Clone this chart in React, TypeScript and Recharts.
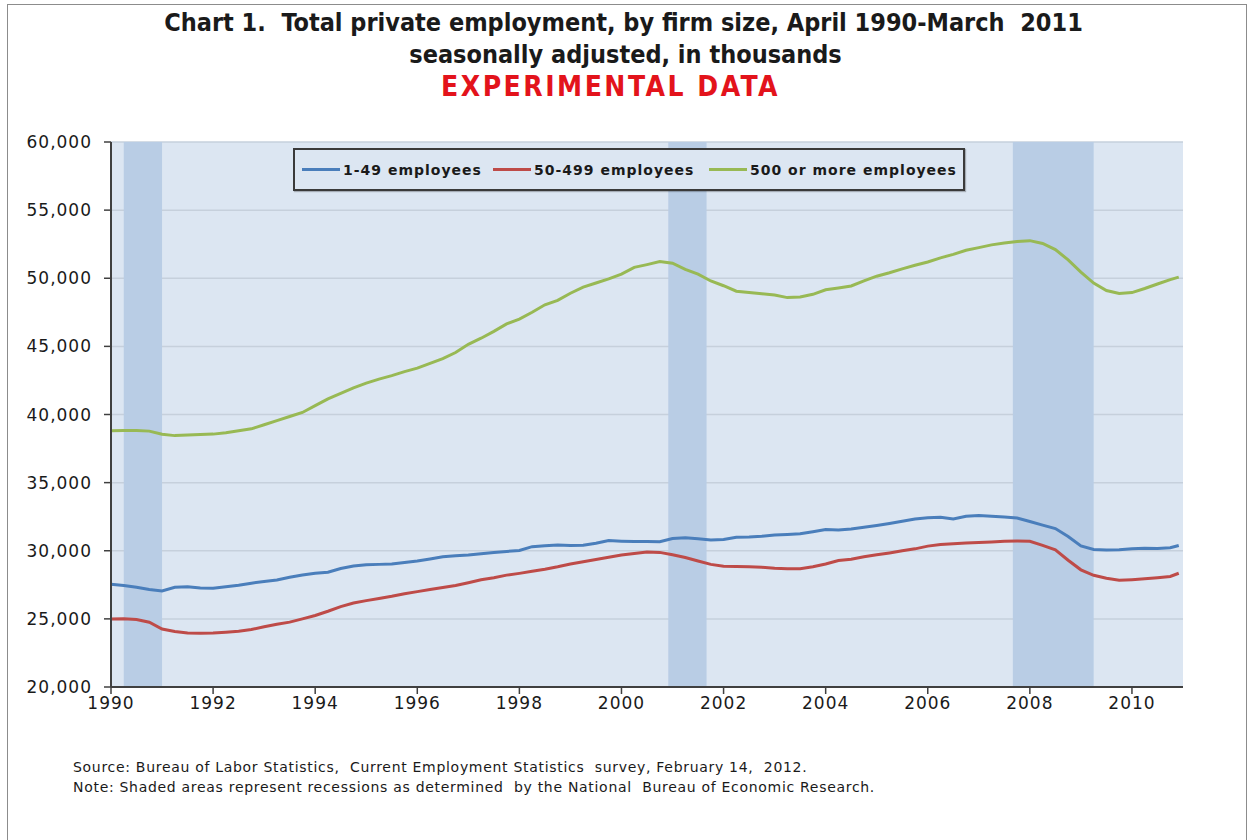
import React from "react";
import { LineChart, Line, XAxis, YAxis, CartesianGrid, ReferenceArea } from "recharts";

// months since April 1990, sampled quarterly (last point = March 2011)
const MONTHS = [
  0, 3, 6, 9, 12, 15, 18, 21, 24, 27,
  30, 33, 36, 39, 42, 45, 48, 51, 54, 57,
  60, 63, 66, 69, 72, 75, 78, 81, 84, 87,
  90, 93, 96, 99, 102, 105, 108, 111, 114, 117,
  120, 123, 126, 129, 132, 135, 138, 141, 144, 147,
  150, 153, 156, 159, 162, 165, 168, 171, 174, 177,
  180, 183, 186, 189, 192, 195, 198, 201, 204, 207,
  210, 213, 216, 219, 222, 225, 228, 231, 234, 237,
  240, 243, 246, 249, 251,
];

// 1-49 employees (thousands)
const SMALL = [
  27540, 27450, 27320, 27150, 27050, 27320, 27350, 27260, 27250, 27360,
  27470, 27620, 27740, 27850, 28050, 28220, 28350, 28420, 28700, 28880,
  28970, 29000, 29020, 29140, 29250, 29400, 29560, 29630, 29690, 29780,
  29880, 29950, 30020, 30300, 30360, 30420, 30380, 30400, 30550, 30750,
  30700, 30670, 30680, 30660, 30900, 30950, 30880, 30790, 30820, 30990,
  31010, 31060, 31160, 31200, 31250, 31400, 31560, 31520, 31600, 31720,
  31850, 32000, 32160, 32330, 32430, 32460, 32330, 32530, 32580, 32540,
  32470, 32400, 32150, 31880, 31630, 31050, 30350, 30090, 30060, 30070,
  30150, 30180, 30170, 30220, 30390,
];

// 50-499 employees
const MEDIUM = [
  24990, 25000, 24960, 24750, 24260, 24080, 23960, 23940, 23960, 24020,
  24100, 24220, 24420, 24600, 24760, 25000, 25250, 25560, 25900, 26160,
  26340, 26500, 26660, 26850, 27000, 27160, 27300, 27450, 27650, 27870,
  28020, 28210, 28340, 28490, 28640, 28820, 29030, 29200, 29350, 29520,
  29690, 29800, 29900, 29880, 29700, 29500, 29250, 29000, 28870, 28850,
  28820, 28790, 28710, 28680, 28680, 28820, 29030, 29280, 29380, 29560,
  29700, 29840, 30000, 30140, 30340, 30460, 30520, 30570, 30610, 30650,
  30690, 30710, 30700, 30400, 30060, 29300, 28600, 28200, 27980, 27840,
  27880, 27940, 28020, 28110, 28350,
];

// 500 or more employees
const LARGE = [
  38800, 38830, 38820, 38780, 38550, 38450, 38500, 38540, 38560, 38660,
  38800, 38950, 39250, 39550, 39850, 40150, 40650, 41150, 41550, 41950,
  42300, 42600, 42850, 43150, 43400, 43750, 44100, 44550, 45150, 45600,
  46100, 46650, 47000, 47500, 48050, 48380, 48900, 49350, 49650, 49950,
  50300, 50800, 51000, 51220, 51100, 50650, 50300, 49800, 49450, 49050,
  48950, 48860, 48770, 48580, 48620, 48820, 49150, 49280, 49430, 49800,
  50150, 50400, 50690, 50950, 51190, 51500, 51750, 52050, 52250, 52450,
  52580, 52700, 52760, 52550, 52100, 51350, 50450, 49650, 49100, 48880,
  48950, 49250, 49580, 49900, 50080,
];

const YEAR_TICKS = [0, 24, 48, 72, 96, 120, 144, 168, 192, 216, 240];
const YEAR_LABELS = ["1990", "1992", "1994", "1996", "1998", "2000", "2002", "2004", "2006", "2008", "2010"];
const Y_TICKS = [20000, 25000, 30000, 35000, 40000, 45000, 50000, 55000, 60000];

// NBER recessions, months since April 1990
const RECESSION_START = [3, 131, 212];
const RECESSION_END = [12, 140, 231];

const SERIES = [
  { key: "small", name: "1-49 employees", color: "#4A7EBB" },
  { key: "medium", name: "50-499 employees", color: "#BE4B48" },
  { key: "large", name: "500 or more employees", color: "#98B954" },
];

const rows = MONTHS.map((m, i) => ({
  m,
  small: SMALL[i],
  medium: MEDIUM[i],
  large: LARGE[i],
}));

const tickFont = {
  fontSize: 17,
  fill: "#1a1a1a",
  fontFamily: "'DejaVu Sans', Verdana, sans-serif",
  letterSpacing: 1,
};

const titleFont = "'DejaVu Sans Condensed', 'Liberation Sans Narrow', 'Liberation Sans', sans-serif";

export default function App() {
  return (
    <div style={{ position: "absolute", left: 0, top: 0, width: 1251, height: 840, background: "#fff" }}>
      {/* outer frame */}
      <div
        style={{
          position: "absolute",
          left: 7,
          top: 4,
          width: 1240,
          height: 836,
          boxSizing: "border-box",
          border: "1px solid #8c8c8c",
          borderBottom: "none",
        }}
      />

      {/* title */}
      <div
        style={{
          position: "absolute",
          left: 0,
          top: 6,
          width: 1251,
          textAlign: "center",
          fontFamily: titleFont,
          fontWeight: "bold",
          color: "#1a1a1a",
        }}
      >
        <div style={{ fontSize: 25, lineHeight: "33px", marginLeft: -4 }}>
          Chart 1.&nbsp; Total private employment, by firm size, April 1990-March&nbsp; 2011
        </div>
        <div style={{ fontSize: 25, lineHeight: "32px" }}>seasonally adjusted, in thousands</div>
        <div style={{ fontSize: 28, lineHeight: "32px", color: "#E3131B", letterSpacing: 2.5, paddingRight: 30 }}>
          EXPERIMENTAL DATA
        </div>
      </div>

      <div style={{ position: "absolute", left: 0, top: 0 }}>
        <LineChart
          width={1251}
          height={730}
          data={rows}
          margin={{ top: 142, right: 68, bottom: 13, left: 0 }}
        >
          <CartesianGrid vertical={false} fill="#DCE6F2" stroke="#C6D0DC" strokeWidth={1.5} />
          {RECESSION_START.map((s, i) => (
            <ReferenceArea
              key={s}
              x1={s}
              x2={RECESSION_END[i]}
              fill="#B9CDE5"
              fillOpacity={1}
              stroke="none"
            />
          ))}
          <XAxis
            dataKey="m"
            type="number"
            domain={[0, 252]}
            ticks={YEAR_TICKS}
            tickFormatter={(v: number) => YEAR_LABELS[YEAR_TICKS.indexOf(v)]}
            height={30}
            tick={tickFont}
            tickSize={7}
            tickMargin={3}
            axisLine={{ stroke: "#404040", strokeWidth: 2 }}
            tickLine={{ stroke: "#404040", strokeWidth: 1.5 }}
          />
          <YAxis
            type="number"
            domain={[20000, 60000]}
            ticks={Y_TICKS}
            width={111}
            tick={tickFont}
            tickSize={7}
            tickMargin={12}
            tickFormatter={(v: number) => v.toLocaleString("en-US")}
            axisLine={{ stroke: "#404040", strokeWidth: 2 }}
            tickLine={{ stroke: "#404040", strokeWidth: 1.5 }}
          />
          {SERIES.map((s) => (
            <Line
              key={s.key}
              type="linear"
              dataKey={s.key}
              name={s.name}
              stroke={s.color}
              strokeWidth={3}
              dot={false}
              isAnimationActive={false}
            />
          ))}
        </LineChart>
      </div>

      {/* legend */}
      <div
        style={{
          position: "absolute",
          left: 293,
          top: 148,
          width: 672,
          height: 43,
          boxSizing: "border-box",
          border: "2px solid #3a3a3a",
          background: "#DCE6F2",
          boxShadow: "1px 1px 1px rgba(0,0,0,0.25)",
          fontFamily: "'DejaVu Sans', Verdana, sans-serif",
          fontWeight: "bold",
          fontSize: 14,
          letterSpacing: 1,
          color: "#1a1a1a",
        }}
      >
        {SERIES.map((s, i) => (
          <div
            key={s.key}
            style={{
              position: "absolute",
              left: [7, 198, 414][i],
              top: 0,
              height: 39,
              display: "flex",
              alignItems: "center",
              whiteSpace: "nowrap",
            }}
          >
            <span style={{ display: "inline-block", width: 38, height: 3, background: s.color, marginRight: 3 }} />
            <span>{s.name}</span>
          </div>
        ))}
      </div>

      {/* notes */}
      <div
        style={{
          position: "absolute",
          left: 73,
          top: 757,
          fontFamily: "'DejaVu Sans', Verdana, sans-serif",
          fontSize: 14,
          letterSpacing: 0.7,
          lineHeight: "20px",
          color: "#1a1a1a",
          whiteSpace: "nowrap",
        }}
      >
        <div>Source: Bureau of Labor Statistics,&nbsp; Current Employment Statistics&nbsp; survey, February 14,&nbsp; 2012.</div>
        <div>Note: Shaded areas represent recessions as determined&nbsp; by the National&nbsp; Bureau of Economic Research.</div>
      </div>
    </div>
  );
}
